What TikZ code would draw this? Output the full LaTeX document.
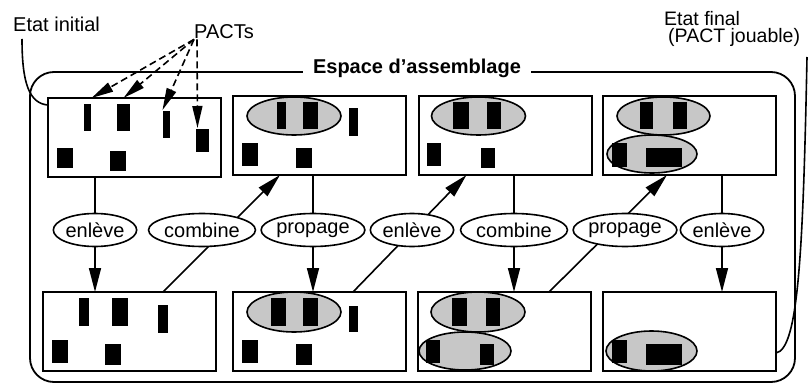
\documentclass[tikz,border=0pt]{standalone}
\usepackage{fontspec}
\setmainfont{Liberation Sans}
\usetikzlibrary{arrows.meta,shapes.geometric,backgrounds}

\tikzset{
    etat/.style={draw, line width=2pt, minimum width=173pt, minimum height=79pt, outer sep=0pt, inner sep=0pt},
    action/.style={ellipse, draw, fill=white, line width=1.6pt, inner xsep=0pt, inner ysep=0pt, minimum height=33pt},
    groupe/.style={draw, line width=1.6pt, fill=black!22},
    lien/.style={line width=1.6pt},
    fleche/.style={lien, -{Triangle[length=24pt,width=12pt]}},
    pointe/.style={lien, dash pattern=on 7pt off 4pt, -{Triangle[length=22pt,width=10pt]}},
}

\begin{document}
\begin{tikzpicture}[x=1pt, y=-1pt, font=\fontsize{20}{24}\selectfont]
    % whole page, y goes downwards
    \useasboundingbox (0,0) rectangle (811,385);

    % assembly space
    \draw [line width=1.8pt, rounded corners=24pt] (30,72) rectangle (795,382);
    \node [fill=white, inner xsep=10pt, inner ysep=2pt, font=\bfseries\fontsize{20}{24}\selectfont, anchor=base] (espace) at (417,74) {Espace d'assemblage};

    % states: top row
    \node [etat] (t1) at (134,137.5) {};
    \node [etat] (t2) at (319.5,135.5) {};
    \node [etat] (t3) at (505,135.5) {};
    \node [etat] (t4) at (689.5,135.5) {};
    % states: bottom row
    \node [etat] (b1) at (129.5,331.5) {};
    \node [etat] (b2) at (319.5,331.5) {};
    \node [etat] (b3) at (504.5,331.5) {};
    \node [etat] (b4) at (689.5,331.5) {};

    % pieces of each state
    \begin{scope}[shift={(t1.north west)}]
        \fill (36,6) rectangle (43,33);
        \fill (69,6) rectangle (82,33);
        \fill (115,13) rectangle (122,40);
        \fill (148,31) rectangle (161,54);
        \fill (9,50) rectangle (25,70);
        \fill (62,53) rectangle (78,73);
        % where the PACTs arrows land
        \coordinate (pact1) at (44,0);
        \coordinate (pact2) at (76,0);
        \coordinate (pact3) at (115,12);
        \coordinate (pact4) at (150,30);
    \end{scope}
    \begin{scope}[shift={(b1.north west)}]
        \fill (36,6) rectangle (46,34);
        \fill (69,6) rectangle (85,34);
        \fill (115,13) rectangle (125,41);
        \fill (9,48) rectangle (25,71);
        \fill (62,52) rectangle (78,73);
    \end{scope}
    \begin{scope}[shift={(t2.north west)}]
        \draw [groupe] (61,20) ellipse [x radius=47, y radius=19];
        \fill (44,6) rectangle (53,33);
        \fill (70,6) rectangle (85,33);
        \fill (116,12) rectangle (125,40);
        \fill (9,47) rectangle (25,70);
        \fill (63,52) rectangle (79,72);
    \end{scope}
    \begin{scope}[shift={(b2.north west)}]
        \draw [groupe] (61,20) ellipse [x radius=47, y radius=20];
        \fill (38,6) rectangle (53,34);
        \fill (70,6) rectangle (85,34);
        \fill (116,14) rectangle (125,40);
        \fill (9,48) rectangle (25,71);
        \fill (63,52) rectangle (79,73);
    \end{scope}
    \begin{scope}[shift={(t3.north west)}]
        \draw [groupe] (60,20) ellipse [x radius=47, y radius=19];
        \fill (34,6) rectangle (50,33);
        \fill (68,6) rectangle (82,33);
        \fill (8,47) rectangle (22,70);
        \fill (62,52) rectangle (76,72);
    \end{scope}
    \begin{scope}[shift={(b3.north west)}]
        \draw [groupe] (60,20) ellipse [x radius=47, y radius=20];
        \fill (34,6) rectangle (49,34);
        \fill (68,6) rectangle (82,34);
        \draw [groupe] (47,59) ellipse [x radius=46, y radius=19];
        \fill (8,48) rectangle (22,71);
        \fill (62,52) rectangle (76,73);
    \end{scope}
    \begin{scope}[shift={(t4.north west)}]
        \draw [groupe] (60.5,20) ellipse [x radius=46.5, y radius=19];
        \fill (37,6) rectangle (50,33);
        \fill (70,6) rectangle (84,33);
        \draw [groupe] (49,58) ellipse [x radius=45, y radius=19];
        \fill (9,47) rectangle (24,71);
        \fill (43,52) rectangle (79,71);
    \end{scope}
    \begin{scope}[shift={(b4.north west)}]
        \draw [groupe] (48.5,59) ellipse [x radius=45.5, y radius=20];
        \fill (9,48) rectangle (24,71);
        \fill (43,52) rectangle (79,73);
    \end{scope}

    % actions between the two rows
    \node [action] (enl1)  at (95,230)  {enlève};
    \node [action] (comb1) at (202,230) {combine};
    \node [action] (prop1) at (313,230) {propage};
    \node [action] (enl2)  at (412,230) {enlève};
    \node [action] (comb2) at (514,230) {combine};
    \node [action] (prop2) at (625,230) {propage};
    \node [action] (enl3)  at (722,230) {enlève};

    % starts and ends of the slanted links
    \coordinate (d1a) at ([xshift=120pt]b1.north west);
    \coordinate (d1b) at ([xshift=47pt]t2.south west);
    \coordinate (d2a) at ([xshift=120pt]b2.north west);
    \coordinate (d2b) at ([xshift=48pt]t3.south west);
    \coordinate (d3a) at ([xshift=131pt]b3.north west);
    \coordinate (d3b) at ([xshift=64pt]t4.south west);

    \begin{scope}[on background layer]
        % down: top row to bottom row
        \draw [lien] (t1.south -| enl1) -- (enl1);
        \draw [fleche] (enl1) -- (b1.north -| enl1);
        \draw [lien] (t2.south -| prop1) -- (prop1);
        \draw [fleche] (prop1) -- (b2.north -| prop1);
        \draw [lien] (t3.south -| comb2) -- (comb2);
        \draw [fleche] (comb2) -- (b3.north -| comb2);
        \draw [lien] (t4.south -| enl3) -- (enl3);
        \draw [fleche] (enl3) -- (b4.north -| enl3);
        % up: bottom row to next state
        \draw [fleche] (d1a) -- (d1b);
        \draw [fleche] (d2a) -- (d2b);
        \draw [fleche] (d3a) -- (d3b);
    \end{scope}

    % labels outside
    \node [anchor=base west, inner sep=0pt] (init) at (13,32) {Etat initial};
    \draw [lien] ([xshift=9pt,yshift=-7pt]init.base west) .. controls +(0,45) and +(-18,-2) .. ([yshift=-7pt]t1.north west);

    \node [anchor=base west, inner sep=0pt] (pacts) at (194,39) {PACTs};
    \draw [pointe] (pacts.south west) -- (pact1);
    \draw [pointe] (pacts.south west) -- (pact2);
    \draw [pointe] (pacts.south west) -- (pact3);
    \draw [pointe] ([xshift=3pt]pacts.south west) -- (pact4);

    % last line of the node sits on its base
    \node [anchor=base west, inner sep=0pt, align=left, font=\fontsize{19.5}{17.5}\selectfont] (final) at (664,43) {Etat final\\\hspace{4pt}(PACT jouable)};
    \coordinate (fin) at (807,57);
    \draw [lien] (fin) .. controls +(-4,200) and +(22,-4) .. ([yshift=-21.5pt]b4.east);
\end{tikzpicture}
\end{document}
